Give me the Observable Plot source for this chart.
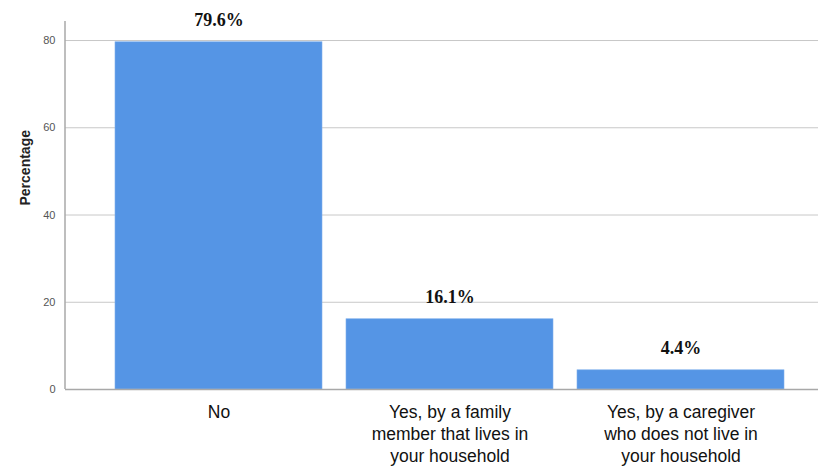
<!DOCTYPE html>
<html>
<head>
<meta charset="utf-8">
<script src="https://cdn.jsdelivr.net/npm/d3@7"></script>
<script src="https://cdn.jsdelivr.net/npm/@observablehq/plot@0.6"></script>
<style>
  html, body { margin: 0; padding: 0; background: #fff; }
  #chart svg { display: block; }
</style>
</head>
<body>
<div id="chart"></div>
<script>
const categories = [
  "No",
  "Yes, by a family\nmember that lives in\nyour household",
  "Yes, by a caregiver\nwho does not live in\nyour household"
];
const percentages = [79.6, 16.1, 4.4];
const valueLabels = ["79.6%", "16.1%", "4.4%"];
const yTicks = [0, 20, 40, 60, 80];

const data = categories.map((c, i) => ({ cat: c, pct: percentages[i], label: valueLabels[i] }));

// left axis line spanning the frame height
const leftAxisLine = (index, scales, values, dimensions) => {
  const { marginLeft, marginTop, height, marginBottom } = dimensions;
  const line = d3.create("svg:line")
    .attr("x1", marginLeft).attr("x2", marginLeft)
    .attr("y1", marginTop).attr("y2", height - marginBottom)
    .attr("stroke", "#a8a8a8").attr("stroke-width", 1.5);
  return line.node();
};

const chart = Plot.plot({
  width: 818,
  height: 471,
  marginLeft: 65,
  marginRight: 0,
  marginTop: 21,
  marginBottom: 82,
  style: { fontFamily: "Liberation Sans, Arial, sans-serif", background: "#fff" },
  x: { domain: categories, range: [103, 796], paddingInner: 0.104, paddingOuter: 0.052, label: null },
  y: { domain: [0, 84.36], label: null },
  marks: [
    Plot.gridY(yTicks.filter(d => d > 0), { stroke: "#c8c8c8", strokeOpacity: 1, strokeWidth: 1 }),
    Plot.barY(data, { x: "cat", y: "pct", fill: "#5595e5", stroke: "#7fb0ec", strokeWidth: 0.6 }),
    Plot.ruleY([0], { stroke: "#a8a8a8", strokeWidth: 1.5 }),
    leftAxisLine,
    Plot.axisY({ ticks: yTicks, tickSize: 0, tickPadding: 10, fontSize: 11, fill: "#555", label: null }),
    Plot.axisX({ tickSize: 0, tickPadding: 13, fontSize: 17.5, fill: "#111", lineHeight: 1.26, label: null }),
    Plot.text(data, { x: "cat", y: "pct", text: "label", dy: -22, fontSize: 18, fontWeight: "bold", fontFamily: "Liberation Serif, Times New Roman, serif", fill: "#111" }),
    Plot.text(["Percentage"], { frameAnchor: "left", dx: -40, rotate: -90, fontSize: 14, fontWeight: "bold", fill: "#222" })
  ]
});

document.getElementById("chart").appendChild(chart);
</script>
</body>
</html>
